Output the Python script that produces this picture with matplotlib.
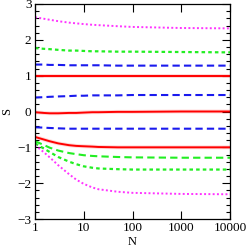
import matplotlib
matplotlib.use("Agg")
import matplotlib.pyplot as plt
import matplotlib.ticker as mticker

# sample points in N
N = [1, 1.5, 2, 3, 5, 7, 10, 15, 20, 50, 100, 1000, 10000]

mag_up = [2.63, 2.59, 2.56, 2.52, 2.48, 2.46, 2.44, 2.42, 2.41, 2.38, 2.36, 2.33, 2.32]
green_dot_up = [1.77, 1.75, 1.74, 1.72, 1.70, 1.70, 1.69, 1.68, 1.68, 1.67, 1.67, 1.66, 1.65]
blue_up = [1.31, 1.31, 1.30, 1.30, 1.29, 1.29, 1.29, 1.29, 1.29, 1.28, 1.28, 1.28, 1.28]
red_up = [1.00, 1.00, 1.00, 1.00, 1.00, 1.00, 1.00, 1.00, 1.00, 1.00, 1.00, 1.00, 1.00]
blue_mid = [0.39, 0.40, 0.41, 0.42, 0.43, 0.44, 0.44, 0.45, 0.45, 0.45, 0.46, 0.46, 0.46]
red_mid = [-0.02, -0.04, -0.05, -0.05, -0.04, -0.04, -0.03, -0.02, -0.02, -0.01, -0.01, 0.00, 0.00]
blue_low = [-0.44, -0.45, -0.46, -0.47, -0.48, -0.48, -0.48, -0.48, -0.48, -0.48, -0.48, -0.48, -0.48]
red_low = [-0.71, -0.78, -0.83, -0.89, -0.94, -0.96, -0.97, -0.98, -0.99, -1.00, -1.00, -1.00, -1.00]
green_dash_low = [-0.83, -0.93, -1.01, -1.09, -1.16, -1.19, -1.22, -1.24, -1.25, -1.27, -1.28, -1.29, -1.29]
green_dot_low = [-0.89, -1.03, -1.13, -1.27, -1.40, -1.47, -1.53, -1.57, -1.59, -1.61, -1.62, -1.62, -1.62]
mag_low = [-0.94, -1.13, -1.28, -1.50, -1.75, -1.90, -2.02, -2.12, -2.17, -2.24, -2.27, -2.30, -2.31]

plt.rcParams["font.family"] = ["Liberation Serif", "DejaVu Serif"]

fig = plt.figure(figsize=(2.47, 2.5), dpi=100)
ax = fig.add_axes([35/247, 1-219/250, 195/247, 215/250])

red = "#ff0000"
blue = "#1a1aee"
green = "#22ee22"
mag = "#ff33ff"

# red lines with a light halo
for y in [red_up, red_mid, red_low]:
    ax.plot(N, y, color=red, lw=2.8, alpha=0.15, solid_capstyle="butt")
    ax.plot(N, y, color=red, lw=1.4)

for y in [blue_up, blue_mid, blue_low]:
    ax.plot(N, y, color=blue, lw=1.5, dashes=(3.5, 2))

ax.plot(N, green_dot_up, color=green, lw=1.6, dashes=(1.6, 1.4))
ax.plot(N, green_dash_low, color=green, lw=1.5, dashes=(3.5, 2))
ax.plot(N, green_dot_low, color=green, lw=1.6, dashes=(1.6, 1.4))

ax.plot(N, mag_up, color=mag, lw=1.4, dashes=(1, 1.2))
ax.plot(N, mag_low, color=mag, lw=1.4, dashes=(1, 1.2))

ax.set_xscale("log")
ax.set_xlim(1, 10000)
ax.set_ylim(-3, 3)
ax.set_xticks([1, 10, 100, 1000, 10000])
ax.xaxis.set_major_formatter(mticker.FuncFormatter(lambda v, p: "%d" % round(v)))
ax.xaxis.set_minor_locator(mticker.LogLocator(base=10, subs=range(2, 10)))
ax.xaxis.set_minor_formatter(mticker.NullFormatter())
ax.set_yticks([-3, -2, -1, 0, 1, 2, 3])
ax.yaxis.set_minor_locator(mticker.MultipleLocator(0.2))

ax.tick_params(which="both", direction="in", top=True, right=True, labelsize=9.5, width=0.8)
ax.tick_params(which="major", length=6, pad=2.5)
ax.tick_params(which="minor", length=3)
for s in ax.spines.values():
    s.set_linewidth(0.9)

ax.set_xlabel("N", fontsize=9, labelpad=1)
ax.set_ylabel("S", fontsize=9, labelpad=3)

fig.savefig("out.png", dpi=100)
